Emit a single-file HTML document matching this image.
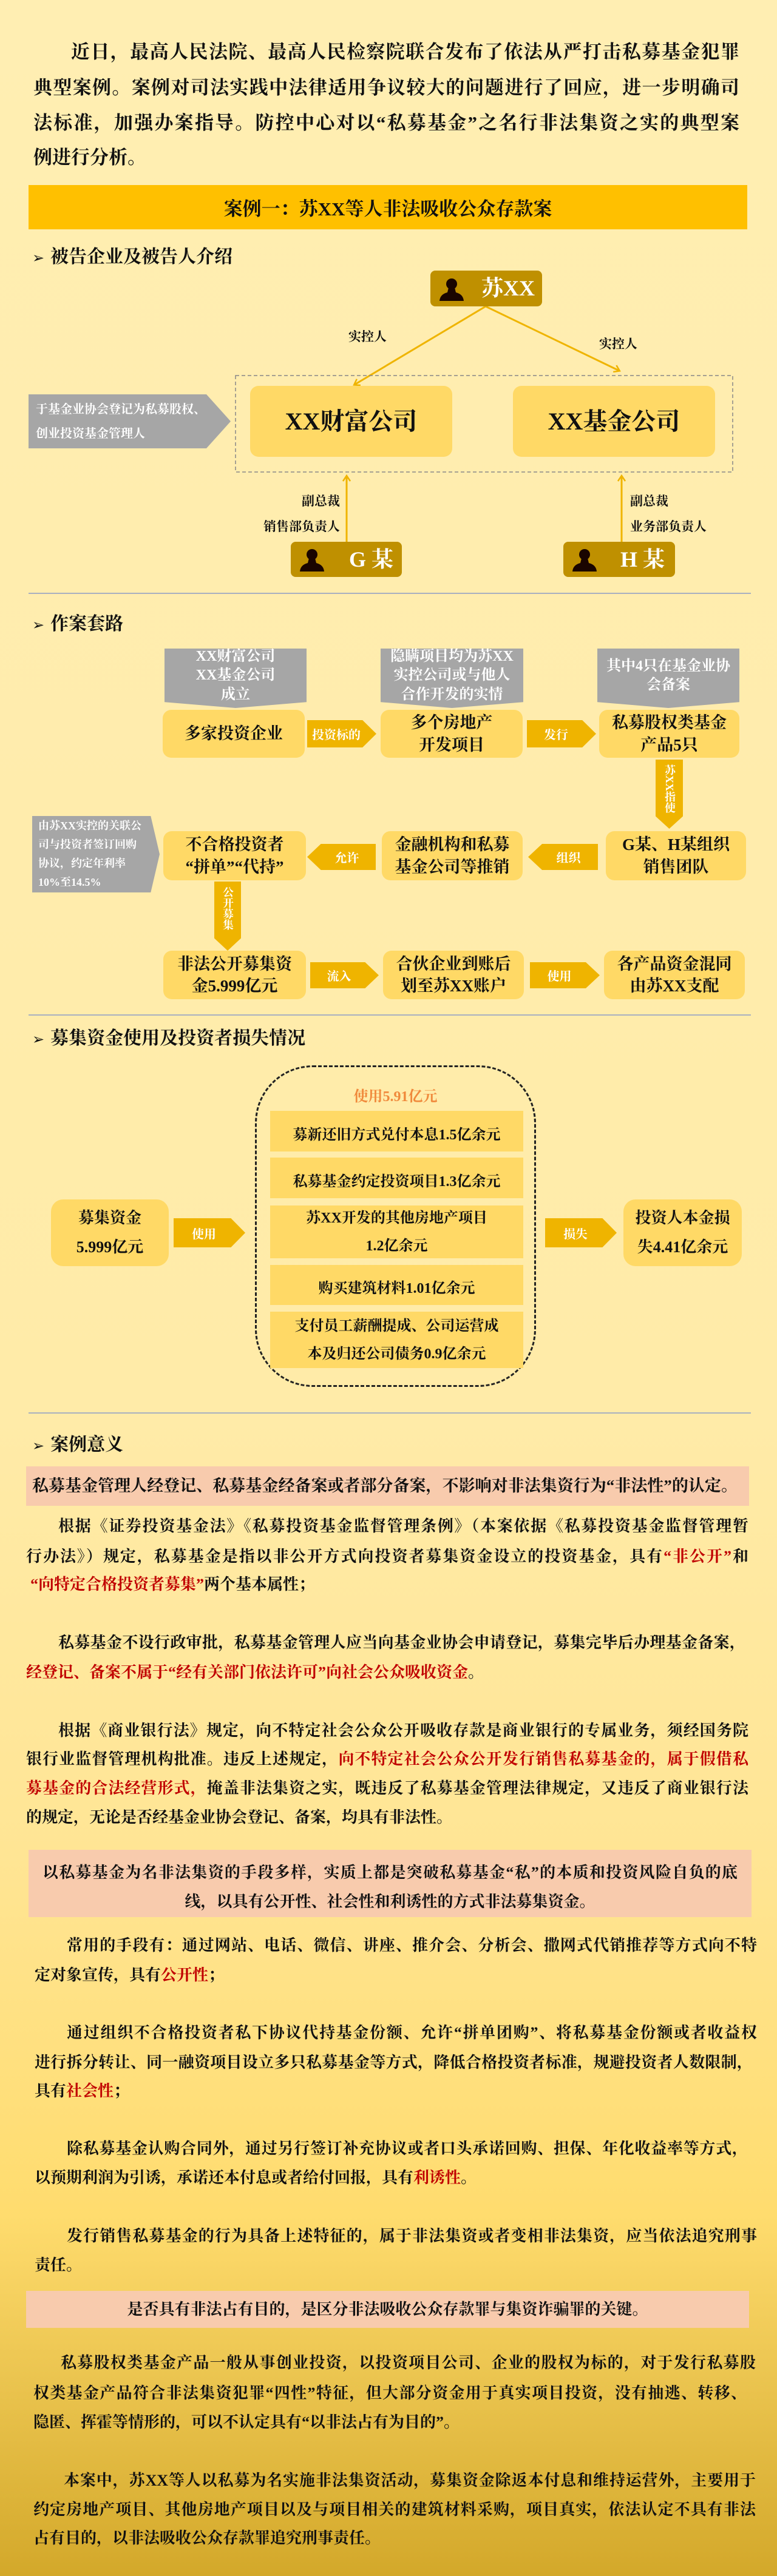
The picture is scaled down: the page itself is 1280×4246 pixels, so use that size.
<!DOCTYPE html>
<html><head><meta charset="utf-8">
<style>
*{margin:0;padding:0;box-sizing:border-box}
html,body{width:1280px;height:4246px}
body{position:relative;overflow:hidden;font-family:"Liberation Serif","Noto Serif CJK SC",serif;font-weight:bold;color:#111;
background:linear-gradient(180deg,#FFEEB2 0%,#FFEBA8 55%,#FFE594 72%,#FFDC6E 86%,#D3A82A 100%)}
.a{position:absolute}
.j{position:absolute;white-space:nowrap;text-align:justify;text-align-last:justify}
.t{position:absolute;white-space:nowrap}
.r{color:#C00000}
.box{position:absolute;background:#FFD966;border-radius:14px;display:flex;align-items:center;justify-content:center;text-align:center;line-height:1.35}
.gray{position:absolute;background:#A6A6A6;color:#fff;display:flex;align-items:center;justify-content:center;text-align:center;line-height:1.3}
.arr{position:absolute;background:#EFB400;color:#fff;display:flex;align-items:center;justify-content:center;font-size:20px}
.ar{clip-path:polygon(0 0,80% 0,100% 50%,80% 100%,0 100%);padding-right:18px}
.al{clip-path:polygon(20% 0,100% 0,100% 100%,20% 100%,0 50%);padding-left:18px}
.ad{position:absolute;background:#EFB400;color:#fff;clip-path:polygon(0 0,100% 0,100% 82%,50% 100%,0 82%)}
.ad div{position:absolute;left:0;top:8px;width:100%;height:96px;writing-mode:vertical-rl;font-size:18px;line-height:44px;white-space:nowrap;text-align:start}
.sec{position:absolute;left:53px;font-size:30px;line-height:40px}
.sec span{font-family:"DejaVu Sans",sans-serif;font-size:24px;margin-right:10px}
.hr{position:absolute;left:47px;width:1190px;height:2px;background:#A9B0C0}
.pk{position:absolute;background:#F8CBAD}
.p{font-size:26px;line-height:48px;height:48px}
.pbox{position:absolute;background:#BF9000;border-radius:8px;color:#fff;font-size:36px}
</style></head><body>

<!-- intro -->
<div class="j" style="left:117px;width:1101px;top:64px;font-size:31px;line-height:44px">近日，最高人民法院、最高人民检察院联合发布了依法从严打击私募基金犯罪</div>
<div class="j" style="left:55px;width:1163px;top:123px;font-size:31px;line-height:44px">典型案例。案例对司法实践中法律适用争议较大的问题进行了回应，进一步明确司</div>
<div class="j" style="left:55px;width:1163px;top:181px;font-size:31px;line-height:44px">法标准，加强办案指导。防控中心对以“私募基金”之名行非法集资之实的典型案</div>
<div class="t" style="left:55px;top:238px;font-size:31px;line-height:44px">例进行分析。</div>

<div class="a" style="left:47px;top:305px;width:1184px;height:73px;background:#FFC000;display:flex;align-items:center;justify-content:center;font-size:31px">案例一：苏XX等人非法吸收公众存款案</div>

<div class="sec" style="top:404px"><span>➢</span>被告企业及被告人介绍</div>

<!-- diagram 1 -->
<svg class="a" style="left:0;top:0" width="1280" height="1000">
<defs><marker id="m" markerWidth="14" markerHeight="14" refX="10" refY="7" orient="auto" markerUnits="userSpaceOnUse"><path d="M2,1 L11,7 L2,13" fill="none" stroke="#EFB400" stroke-width="2.5"/></marker></defs>
<line x1="800" y1="505" x2="584" y2="634" stroke="#EFB400" stroke-width="3" marker-end="url(#m)"/>
<line x1="800" y1="505" x2="1020" y2="611" stroke="#EFB400" stroke-width="3" marker-end="url(#m)"/>
<line x1="571" y1="893" x2="571" y2="785" stroke="#EFB400" stroke-width="3" marker-end="url(#m)"/>
<line x1="1024" y1="893" x2="1024" y2="785" stroke="#EFB400" stroke-width="3" marker-end="url(#m)"/>
<rect x="388" y="619" width="819" height="159" fill="none" stroke="#888" stroke-width="1.5" stroke-dasharray="6,4"/>
</svg>
<div class="pbox" style="left:709px;top:446px;width:184px;height:59px">
<svg class="a" style="left:14px;top:10px" width="42" height="40" viewBox="0 0 42 40"><circle cx="21" cy="12" r="9" fill="#1a0500"/><path d="M16,18 L26,18 L28,26 Q40,29 41,40 L1,40 Q2,29 14,26 Z" fill="#1a0500"/></svg>
<div class="a" style="left:84px;top:6px;line-height:46px">苏XX</div></div>
<div class="pbox" style="left:479px;top:893px;width:183px;height:58px">
<svg class="a" style="left:14px;top:9px" width="42" height="40" viewBox="0 0 42 40"><circle cx="21" cy="12" r="9" fill="#1a0500"/><path d="M16,18 L26,18 L28,26 Q40,29 41,40 L1,40 Q2,29 14,26 Z" fill="#1a0500"/></svg>
<div class="a" style="left:96px;top:6px;line-height:46px">G 某</div></div>
<div class="pbox" style="left:928px;top:893px;width:184px;height:58px">
<svg class="a" style="left:14px;top:9px" width="42" height="40" viewBox="0 0 42 40"><circle cx="21" cy="12" r="9" fill="#1a0500"/><path d="M16,18 L26,18 L28,26 Q40,29 41,40 L1,40 Q2,29 14,26 Z" fill="#1a0500"/></svg>
<div class="a" style="left:94px;top:6px;line-height:46px">H 某</div></div>
<div class="t" style="left:574px;top:539px;font-size:21px">实控人</div>
<div class="t" style="left:987px;top:551px;font-size:21px">实控人</div>
<div class="t" style="left:420px;top:810px;width:140px;text-align:right;font-size:21px">副总裁</div>
<div class="t" style="left:400px;top:852px;width:160px;text-align:right;font-size:21px">销售部负责人</div>
<div class="t" style="left:1038px;top:810px;font-size:21px">副总裁</div>
<div class="t" style="left:1038px;top:852px;font-size:21px">业务部负责人</div>
<div class="box" style="left:412px;top:636px;width:333px;height:117px;font-size:40px">XX财富公司</div>
<div class="box" style="left:845px;top:636px;width:333px;height:117px;font-size:40px">XX基金公司</div>
<div class="gray" style="left:47px;top:650px;width:333px;height:89px;clip-path:polygon(0 0,88% 0,100% 50%,88% 100%,0 100%);justify-content:flex-start;text-align:left;padding-left:12px;font-size:20px;line-height:40px">于基金业协会登记为私募股权、<br>创业投资基金管理人</div>
<div class="hr" style="top:977px"></div>

<!-- diagram 2 -->
<div class="sec" style="top:1009px"><span>➢</span>作案套路</div>
<div class="gray" style="left:271px;top:1069px;width:234px;height:98px;font-size:24px;clip-path:polygon(0 0,100% 0,100% 90%,50% 100%,0 90%);padding-bottom:8px">XX财富公司<br>XX基金公司<br>成立</div>
<div class="gray" style="left:627px;top:1069px;width:235px;height:98px;font-size:24px;clip-path:polygon(0 0,100% 0,100% 90%,50% 100%,0 90%);padding-bottom:8px">隐瞒项目均为苏XX<br>实控公司或与他人<br>合作开发的实情</div>
<div class="gray" style="left:984px;top:1069px;width:234px;height:98px;font-size:24px;clip-path:polygon(0 0,100% 0,100% 90%,50% 100%,0 90%);padding-bottom:8px">其中4只在基金业协<br>会备案</div>
<div class="box" style="left:268px;top:1170px;width:234px;height:79px;font-size:27px">多家投资企业</div>
<div class="box" style="left:627px;top:1170px;width:234px;height:79px;font-size:27px">多个房地产<br>开发项目</div>
<div class="box" style="left:987px;top:1170px;width:231px;height:79px;font-size:27px">私募股权类基金<br>产品5只</div>
<div class="arr ar" style="left:506px;top:1187px;width:114px;height:45px">投资标的</div>
<div class="arr ar" style="left:868px;top:1187px;width:114px;height:45px">发行</div>
<div class="ad" style="left:1080px;top:1252px;width:45px;height:114px"><div>苏XX指使</div></div>

<div class="gray" style="left:53px;top:1345px;width:210px;height:126px;clip-path:polygon(0 0,93% 0,100% 50%,93% 100%,0 100%);justify-content:flex-start;text-align:left;padding-left:10px;font-size:18px;line-height:31px">由苏XX实控的关联公<br>司与投资者签订回购<br>协议，约定年利率<br>10%至14.5%</div>
<div class="box" style="left:269px;top:1370px;width:235px;height:81px;font-size:27px">不合格投资者<br>“拼单”“代持”</div>
<div class="box" style="left:629px;top:1370px;width:232px;height:81px;font-size:27px">金融机构和私募<br>基金公司等推销</div>
<div class="box" style="left:998px;top:1370px;width:231px;height:81px;font-size:27px">G某、H某组织<br>销售团队</div>
<div class="arr al" style="left:506px;top:1391px;width:113px;height:43px">允许</div>
<div class="arr al" style="left:870px;top:1391px;width:115px;height:43px">组织</div>
<div class="ad" style="left:353px;top:1453px;width:44px;height:114px"><div>公开募集</div></div>

<div class="box" style="left:269px;top:1567px;width:235px;height:80px;font-size:27px">非法公开募集资<br>金5.999亿元</div>
<div class="box" style="left:631px;top:1567px;width:232px;height:80px;font-size:27px">合伙企业到账后<br>划至苏XX账户</div>
<div class="box" style="left:995px;top:1567px;width:232px;height:80px;font-size:27px">各产品资金混同<br>由苏XX支配</div>
<div class="arr ar" style="left:511px;top:1586px;width:113px;height:43px">流入</div>
<div class="arr ar" style="left:873px;top:1586px;width:115px;height:43px">使用</div>
<div class="hr" style="top:1672px"></div>

<!-- diagram 3 -->
<div class="sec" style="top:1692px"><span>➢</span>募集资金使用及投资者损失情况</div>
<div class="a" style="left:420px;top:1756px;width:463px;height:530px;border:3px dashed #222;border-radius:95px"></div>
<div class="t" style="left:420px;width:463px;top:1787px;text-align:center;font-size:24px;color:#F08A3C">使用5.91亿元</div>
<div class="box" style="left:445px;top:1831px;width:417px;height:67px;border-radius:0;font-size:24px;padding-top:14px">募新还旧方式兑付本息1.5亿余元</div>
<div class="box" style="left:445px;top:1908px;width:417px;height:67px;border-radius:0;font-size:24px;padding-top:14px">私募基金约定投资项目1.3亿余元</div>
<div class="box" style="left:445px;top:1987px;width:417px;height:87px;border-radius:0;font-size:24px;line-height:46px">苏XX开发的其他房地产项目<br>1.2亿余元</div>
<div class="box" style="left:445px;top:2085px;width:417px;height:66px;border-radius:0;font-size:24px;padding-top:12px">购买建筑材料1.01亿余元</div>
<div class="box" style="left:445px;top:2162px;width:417px;height:93px;border-radius:0;font-size:24px;line-height:46px">支付员工薪酬提成、公司运营成<br>本及归还公司债务0.9亿余元</div>
<div class="box" style="left:84px;top:1977px;width:194px;height:110px;border-radius:20px;font-size:26px;line-height:48px">募集资金<br>5.999亿元</div>
<div class="box" style="left:1027px;top:1977px;width:195px;height:110px;border-radius:20px;font-size:26px;line-height:48px">投资人本金损<br>失4.41亿余元</div>
<div class="arr ar" style="left:286px;top:2008px;width:118px;height:48px">使用</div>
<div class="arr ar" style="left:898px;top:2008px;width:118px;height:48px">损失</div>
<div class="hr" style="top:2328px"></div>

<!-- significance -->
<div class="sec" style="top:2362px"><span>➢</span>案例意义</div>

<div class="pk" style="left:43px;top:2417px;width:1191px;height:65px"></div>
<div class="j p" style="left:53px;width:1162px;top:2425px;font-size:27px">私募基金管理人经登记、私募基金经备案或者部分备案，不影响对非法集资行为“非法性”的认定。</div>

<div class="j p" style="left:96px;width:1137px;top:2492px">根据《证券投资基金法》《私募投资基金监督管理条例》（本案依据《私募投资基金监督管理暂</div>
<div class="j p" style="left:43px;width:1190px;top:2542px">行办法》）规定，私募基金是指以非公开方式向投资者募集资金设立的投资基金，具有<span class="r">“非公开”</span>和</div>
<div class="t p" style="left:50px;top:2588px"><span class="r">“向特定合格投资者募集”</span>两个基本属性；</div>

<div class="j p" style="left:96px;width:1132px;top:2684px">私募基金不设行政审批，私募基金管理人应当向基金业协会申请登记，募集完毕后办理基金备案，</div>
<div class="t p" style="left:43px;top:2733px"><span class="r">经登记、备案不属于“经有关部门依法许可”向社会公众吸收资金</span>。</div>

<div class="j p" style="left:96px;width:1137px;top:2829px">根据《商业银行法》规定，向不特定社会公众公开吸收存款是商业银行的专属业务，须经国务院</div>
<div class="j p" style="left:43px;width:1190px;top:2876px">银行业监督管理机构批准。违反上述规定，<span class="r">向不特定社会公众公开发行销售私募基金的，属于假借私</span></div>
<div class="j p" style="left:43px;width:1190px;top:2924px"><span class="r">募基金的合法经营形式，</span>掩盖非法集资之实，既违反了私募基金管理法律规定，又违反了商业银行法</div>
<div class="t p" style="left:43px;top:2972px">的规定，无论是否经基金业协会登记、备案，均具有非法性。</div>

<div class="pk" style="left:47px;top:3049px;width:1191px;height:111px"></div>
<div class="j p" style="left:70px;width:1145px;top:3063px">以私募基金为名非法集资的手段多样，实质上都是突破私募基金“私”的本质和投资风险自负的底</div>
<div class="t p" style="left:47px;width:1191px;top:3111px;text-align:center">线，以具有公开性、社会性和利诱性的方式非法募集资金。</div>

<div class="j p" style="left:110px;width:1137px;top:3183px">常用的手段有：通过网站、电话、微信、讲座、推介会、分析会、撒网式代销推荐等方式向不特</div>
<div class="t p" style="left:57px;top:3232px">定对象宣传，具有<span class="r">公开性</span>；</div>

<div class="j p" style="left:110px;width:1137px;top:3327px">通过组织不合格投资者私下协议代持基金份额、允许“拼单团购”、将私募基金份额或者收益权</div>
<div class="j p" style="left:57px;width:1183px;top:3376px">进行拆分转让、同一融资项目设立多只私募基金等方式，降低合格投资者标准，规避投资者人数限制，</div>
<div class="t p" style="left:57px;top:3423px">具有<span class="r">社会性</span>；</div>

<div class="j p" style="left:110px;width:1122px;top:3518px">除私募基金认购合同外，通过另行签订补充协议或者口头承诺回购、担保、年化收益率等方式，</div>
<div class="t p" style="left:57px;top:3566px">以预期利润为引诱，承诺还本付息或者给付回报，具有<span class="r">利诱性</span>。</div>

<div class="j p" style="left:110px;width:1137px;top:3662px">发行销售私募基金的行为具备上述特征的，属于非法集资或者变相非法集资，应当依法追究刑事</div>
<div class="t p" style="left:57px;top:3710px">责任。</div>

<div class="pk" style="left:43px;top:3776px;width:1191px;height:61px"></div>
<div class="t p" style="left:43px;width:1191px;top:3783px;text-align:center">是否具有非法占有目的，是区分非法吸收公众存款罪与集资诈骗罪的关键。</div>

<div class="j p" style="left:100px;width:1145px;top:3871px">私募股权类基金产品一般从事创业投资，以投资项目公司、企业的股权为标的，对于发行私募股</div>
<div class="j p" style="left:55px;width:1175px;top:3921px">权类基金产品符合非法集资犯罪“四性”特征，但大部分资金用于真实项目投资，没有抽逃、转移、</div>
<div class="t p" style="left:55px;top:3969px">隐匿、挥霍等情形的，可以不认定具有“以非法占有为目的”。</div>

<div class="j p" style="left:105px;width:1140px;top:4065px">本案中，苏XX等人以私募为名实施非法集资活动，募集资金除返本付息和维持运营外，主要用于</div>
<div class="j p" style="left:55px;width:1190px;top:4113px">约定房地产项目、其他房地产项目以及与项目相关的建筑材料采购，项目真实，依法认定不具有非法</div>
<div class="t p" style="left:55px;top:4160px">占有目的，以非法吸收公众存款罪追究刑事责任。</div>

</body></html>
